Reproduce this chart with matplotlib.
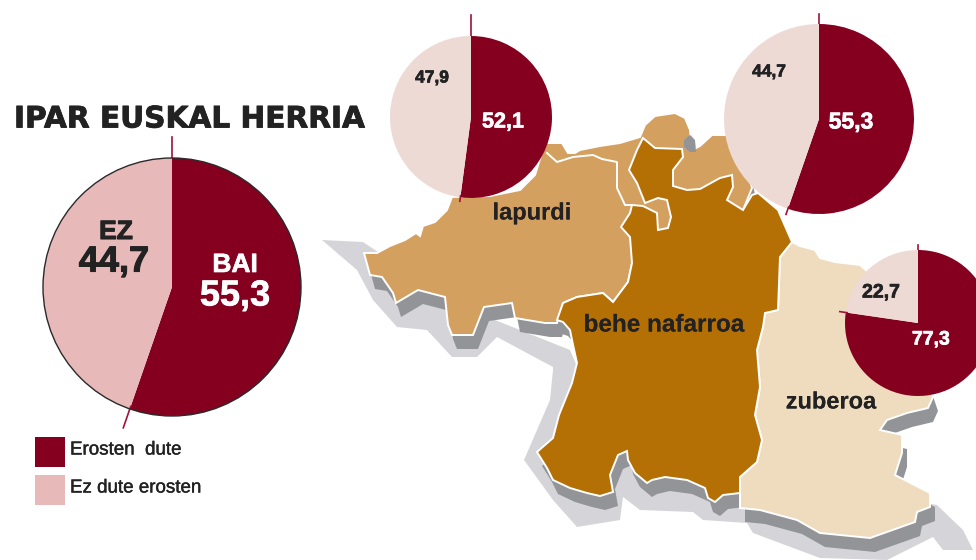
import numpy as np
import matplotlib
matplotlib.use('Agg')
import matplotlib.pyplot as plt
from matplotlib.patches import Polygon, Rectangle, Circle
import matplotlib.patheffects as pe

plt.rcParams['font.family'] = ['Liberation Sans', 'DejaVu Sans']

# Data
regions = ['lapurdi', 'behe nafarroa', 'zuberoa']
total_values = [55.3, 44.7]
lapurdi_values = [52.1, 47.9]
behe_values = [55.3, 44.7]
zuberoa_values = [77.3, 22.7]
legend_labels = ['Erosten  dute', 'Ez dute erosten']

# Colours
MAROON = '#85001F'
PINK = '#E7B9B9'
PALE = '#EEDAD5'
LAPURDI_C = '#D4A060'
BEHE_C = '#B46F05'
ZUBEROA_C = '#EFDCBE'
DARK_GREY = '#939498'
LIGHT_GREY = '#D5D5D9'
TEXT = '#222222'

# Map outlines, in picture pixels
lapurdi_xy = [(364, 253), (377, 253), (390, 246), (405, 240), (416, 233), (420, 236), (423, 226), (435, 222),
              (447, 210), (452, 197), (490, 196), (520, 190), (535, 175), (545, 143), (562, 143), (568, 153),
              (575, 153), (580, 150), (600, 146), (620, 143), (640, 137), (645, 125), (655, 116), (675, 113),
              (685, 118), (690, 130), (692, 150), (700, 146), (712, 135), (727, 135), (745, 160), (752, 188),
              (743, 210), (700, 230), (632, 263), (628, 282), (613, 302), (603, 293), (577, 297), (563, 303),
              (557, 323), (545, 323), (515, 318), (512, 303), (484, 307), (473, 335), (452, 335), (448, 325),
              (445, 297), (418, 290), (396, 303), (393, 293), (382, 277), (370, 275)]
behe_xy = [(643, 138), (655, 148), (682, 149), (683, 157), (673, 170), (673, 186), (687, 190), (700, 189),
           (720, 178), (732, 175), (733, 187), (727, 200), (743, 210), (752, 195), (758, 193), (778, 210),
           (792, 242), (780, 257), (778, 310), (765, 313), (763, 327), (757, 350), (760, 387), (755, 415),
           (762, 440), (757, 462), (740, 477), (740, 493), (723, 495), (715, 502), (708, 498), (705, 488),
           (687, 480), (665, 477), (652, 480), (647, 483), (635, 473), (628, 460), (627, 451), (618, 455),
           (610, 475), (613, 492), (600, 496), (587, 493), (570, 488), (553, 480), (547, 468), (537, 452),
           (553, 438), (559, 415), (572, 383), (577, 363), (572, 340), (570, 330), (563, 322), (557, 320),
           (563, 303), (577, 297), (603, 293), (613, 302), (628, 282), (632, 263), (630, 237), (621, 227),
           (630, 213), (632, 205), (643, 206), (657, 213), (658, 230), (668, 228), (671, 217), (667, 200),
           (658, 198), (645, 203), (637, 183), (629, 170), (637, 150)]
zuberoa_xy = [(792, 242), (800, 246), (815, 250), (820, 258), (835, 262), (860, 265), (900, 300), (933, 397),
              (928, 408), (907, 413), (887, 420), (880, 430), (902, 435), (902, 453), (895, 475), (930, 493),
              (930, 507), (917, 512), (915, 522), (870, 538), (820, 533), (797, 520), (760, 510), (740, 508),
              (740, 477), (757, 462), (762, 440), (755, 415), (760, 387), (757, 350), (763, 327), (765, 313),
              (778, 310), (780, 257)]
inner_border_xy = [(547, 153), (557, 162), (573, 157), (593, 155), (602, 159), (617, 162), (617, 188), (625, 205),
                   (632, 205)]
shadow_xy = [(322, 240), (363, 242), (378, 252), (420, 290), (520, 330), (570, 350), (600, 420), (700, 440),
             (800, 480), (937, 505), (963, 530), (973, 550), (943, 550), (933, 537), (887, 560), (820, 558),
             (753, 533), (747, 523), (703, 520), (693, 512), (640, 510), (623, 497), (620, 520), (577, 527),
             (553, 500), (524, 460), (537, 430), (550, 400), (553, 370), (553, 367), (497, 337), (477, 357),
             (452, 357), (427, 330), (397, 327), (373, 300), (357, 270)]
spot_xy = [(684, 140), (690, 135), (695, 140), (696, 152), (690, 152), (684, 147)]

fig = plt.figure(figsize=(9.76, 5.60), dpi=100)
ax = fig.add_axes([0, 0, 1, 1])


def pie_at(values, colors, x, y, r, lead_top, lead_low):
    # y axis runs downwards, so -90 is the top of the picture and angles go clockwise
    ax.pie(values, colors=colors, center=(x, y), radius=r, startangle=-90, counterclock=True,
           wedgeprops=dict(linewidth=0, zorder=6))
    a = np.radians(values[0] / sum(values) * 360)
    ax.plot([x, x], [y - r, y - r - lead_top], color='#A0123A', lw=1.2, zorder=5)
    ax.plot([x + r * 0.98 * np.sin(a), x + (r + lead_low) * np.sin(a)],
            [y - r * 0.98 * np.cos(a), y - (r + lead_low) * np.cos(a)], color='#A0123A', lw=1.2, zorder=7)


def label(x, y, s, size, color=TEXT, stroke=0.5, **kw):
    ax.text(x, y, s, fontsize=size, color=color, fontweight='bold', ha='center', va='center', zorder=10,
            path_effects=[pe.withStroke(linewidth=stroke, foreground=color)], **kw)


def comma(v):
    return f'{v:.1f}'.replace('.', ',')


# Map
ax.add_patch(Polygon(shadow_xy, closed=True, fc=LIGHT_GREY, ec='none', zorder=1))
for xy in [lapurdi_xy, behe_xy, zuberoa_xy]:
    ax.add_patch(Polygon(np.array(xy) + [5, 14], closed=True, fc=DARK_GREY, ec='none', zorder=2))
ax.add_patch(Polygon(lapurdi_xy, closed=True, fc=LAPURDI_C, ec='white', lw=1.4, zorder=3))
ax.add_patch(Polygon(zuberoa_xy, closed=True, fc=ZUBEROA_C, ec='white', lw=1.4, zorder=3))
ax.add_patch(Polygon(behe_xy, closed=True, fc=BEHE_C, ec='white', lw=1.4, zorder=4))
ax.add_patch(Polygon(spot_xy, closed=True, fc=DARK_GREY, ec='none', zorder=4))
ax.plot(*zip(*inner_border_xy), color='white', lw=1.4, zorder=4)

# Pies
pie_at(total_values, [MAROON, PINK], 172, 287, 129, 21, 20)
ax.add_patch(Circle((172, 287), 129, fc='none', ec='#2a2a2a', lw=1, zorder=7))
pie_at(lapurdi_values, [MAROON, PALE], 471, 117, 81, 21, 4)
pie_at(behe_values, [MAROON, PALE], 819, 119, 95, 10, 6)
pie_at(zuberoa_values, [MAROON, PALE], 918, 323, 73, 5, 6)

# Texts
label(190, 119, 'IPAR EUSKAL HERRIA', 21.3, stroke=0.6, family='DejaVu Sans')
label(116, 232, 'EZ', 19, stroke=0.8)
label(114, 262, comma(total_values[1]), 26, stroke=0.8)
label(235, 265, 'BAI', 19, 'white')
label(235, 296, comma(total_values[0]), 26, 'white')
label(432, 78, comma(lapurdi_values[1]), 12.5)
label(503, 122, comma(lapurdi_values[0]), 15.5, 'white')
label(769, 72, comma(behe_values[1]), 12.5)
label(851, 122, comma(behe_values[0]), 16.5, 'white')
label(881, 293, comma(zuberoa_values[1]), 14)
label(931, 340, comma(zuberoa_values[0]), 14, 'white')
label(532, 213, regions[0], 17, stroke=0)
label(664, 325, regions[1], 17.5, stroke=0)
label(831, 402, regions[2], 17, stroke=0)

# Legend
for y0, col, txt in zip([437, 475], [MAROON, PINK], legend_labels):
    ax.add_patch(Rectangle((35, y0), 30, 30, fc=col, ec='none', zorder=5))
    ax.text(70, y0 + 13, txt, fontsize=13.5, color=TEXT, ha='left', va='center', zorder=10,
            path_effects=[pe.withStroke(linewidth=0.3, foreground=TEXT)])

ax.set_xlim(0, 976)
ax.set_ylim(560, 0)
ax.axis('off')
fig.savefig('out.png', dpi=100)
